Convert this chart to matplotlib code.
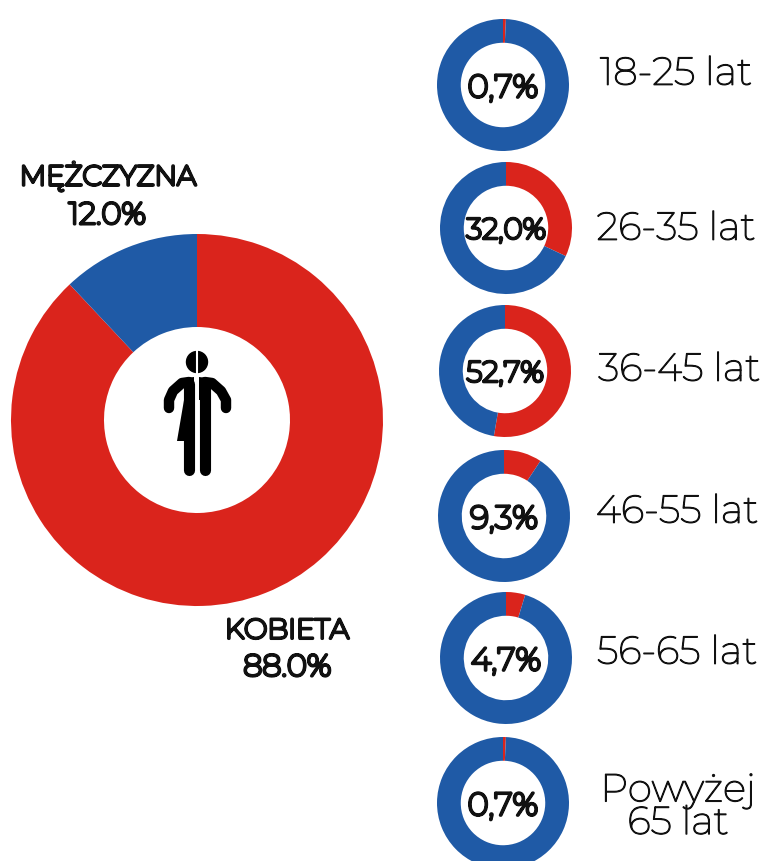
import matplotlib
matplotlib.use('Agg')
import matplotlib.pyplot as plt
import matplotlib.patheffects as pe
from matplotlib.patches import Ellipse, Polygon

plt.rcParams['font.family'] = ['Montserrat', 'Lato', 'DejaVu Sans']

W = 763
H = 861
CZERWONY = '#da241c'
NIEBIESKI = '#1f5aa6'
CZARNY = '#111111'

plec = ['KOBIETA', 'MĘŻCZYZNA']
plec_proc = [88.0, 12.0]
wiek = ['18-25 lat', '26-35 lat', '36-45 lat', '46-55 lat', '56-65 lat', 'Powyżej\n65 lat']
wiek_proc = [0.7, 32.0, 52.7, 9.3, 4.7, 0.7]
wiek_teksty = ['0,7%', '32,0%', '52,7%', '9,3%', '4,7%', '0,7%']

# srodki malych kol i etykiet w pikselach
srodki = [(503, 85), (506, 228), (505, 371), (504, 516), (506, 658), (503, 803)]
etyk = [(676, 74), (676, 229), (679, 370), (677, 512), (677, 653), (678, 807)]

fig = plt.figure(figsize=(W / 100, H / 100), dpi=100)

# czcionka zmienna ma tylko cienka wage, wiec pogrubienie obrysem
grub = [pe.withStroke(linewidth=2.2, foreground=CZARNY)]
sred = [pe.withStroke(linewidth=0.9, foreground=CZARNY)]


def os_px(cx, cy, r):
    ax = fig.add_axes([(cx - r) / W, 1 - (cy + r) / H, 2 * r / W, 2 * r / H])
    ax.set_xlim(-1, 1)
    ax.set_ylim(-1, 1)
    ax.set_aspect('equal')
    ax.axis('off')
    return ax


# duzy wykres plec
ax = os_px(197, 420, 186)
ax.pie(plec_proc, colors=[CZERWONY, NIEBIESKI], startangle=90, counterclock=False,
       radius=1, wedgeprops={'width': 0.5})
ax.set_xlim(-1, 1)
ax.set_ylim(-1, 1)

# male wykresy wiek
for (cx, cy), p, t in zip(srodki, wiek_proc, wiek_teksty):
    a = os_px(cx, cy, 66)
    a.pie([p, 100 - p], colors=[CZERWONY, NIEBIESKI], startangle=90, counterclock=False,
          radius=1, wedgeprops={'width': 0.36})
    a.set_xlim(-1, 1)
    a.set_ylim(-1, 1)
    size = 21 if len(t) > 4 else 23
    a.text(0, -0.05, t, ha='center', va='center', fontsize=size, color=CZARNY, path_effects=grub)

# warstwa na teksty i ikone, wspolrzedne w pikselach
top = fig.add_axes([0, 0, 1, 1], facecolor='none')
top.set_xlim(0, W)
top.set_ylim(H, 0)
top.axis('off')

for (x, y), t in zip(etyk, wiek):
    top.text(x, y, t, ha='center', va='center', fontsize=28, color=CZARNY, linespacing=0.9, path_effects=sred)

top.text(108, 176, plec[1], ha='center', va='center', fontsize=20, color=CZARNY, path_effects=grub)
top.text(107, 216, '%.1f%%' % plec_proc[1], ha='center', va='center', fontsize=22, color=CZARNY, path_effects=grub)
top.text(287, 631, plec[0], ha='center', va='center', fontsize=20, color=CZARNY, path_effects=grub)
top.text(287, 668, '%.1f%%' % plec_proc[0], ha='center', va='center', fontsize=22, color=CZARNY, path_effects=grub)

# ikona postaci
c = '#000000'
top.add_patch(Ellipse((197, 362), 21, 21, color=c, zorder=5))
top.plot([197, 197], [350, 374], color='white', lw=1.5, zorder=6)
# rece
top.plot([189, 182, 173, 169, 169], [382, 383, 391, 400, 408], color=c, lw=7.5,
         solid_capstyle='round', solid_joinstyle='round', zorder=5)
top.plot([205, 212, 221, 226, 226], [382, 383, 391, 400, 408], color=c, lw=7.5,
         solid_capstyle='round', solid_joinstyle='round', zorder=5)
# tulow i nogi
top.plot([188.5, 188.5], [384, 470], color=c, lw=8, solid_capstyle='round', zorder=5)
top.plot([204.5, 204.5], [384, 470], color=c, lw=8, solid_capstyle='round', zorder=5)
top.add_patch(Polygon([(194, 377), (186, 378), (184, 400), (177, 441), (194, 441)],
                      closed=True, color=c, lw=0, zorder=5))
top.add_patch(Polygon([(199, 377), (207, 378), (210, 400), (199, 400)],
                      closed=True, color=c, lw=0, zorder=5))

fig.savefig('out.png', dpi=100)
